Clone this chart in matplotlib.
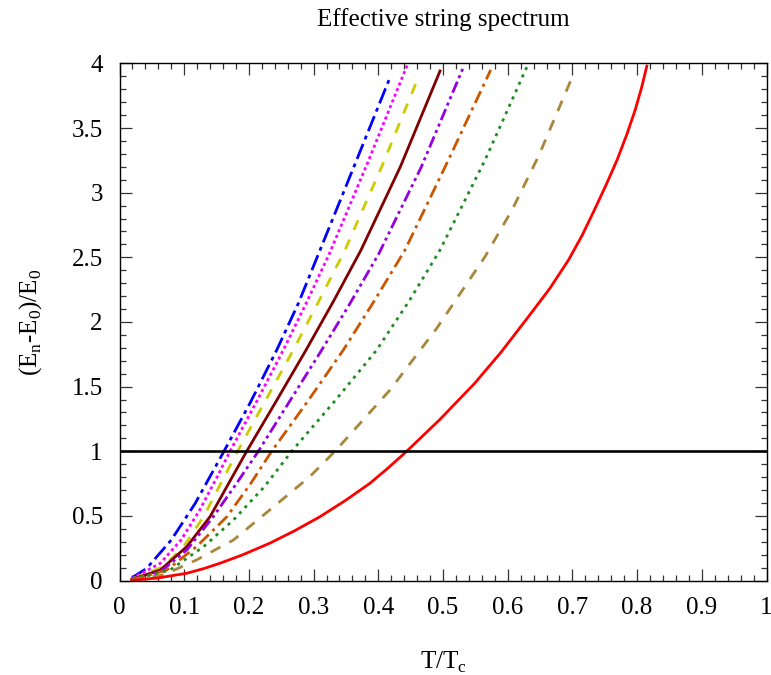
import matplotlib
matplotlib.use("Agg")
import matplotlib.pyplot as plt
from matplotlib.ticker import MultipleLocator, FixedLocator

plt.rcParams["font.family"] = ["Liberation Serif", "DejaVu Serif"]
plt.rcParams["mathtext.fontset"] = "custom"
plt.rcParams["mathtext.rm"] = "Liberation Serif"

# values (T/Tc, (En-E0)/E0)
blue_x = [0.019, 0.042, 0.080, 0.117, 0.1615, 0.2025, 0.243, 0.2765, 0.310, 0.363, 0.4165]
blue_y = [0.02, 0.094, 0.313, 0.597, 1.0, 1.38, 1.783, 2.145, 2.557, 3.21, 3.872]

magenta_x = [0.019, 0.063, 0.095, 0.124, 0.151, 0.1708, 0.212, 0.2532, 0.289, 0.3246, 0.385, 0.4448]
magenta_y = [0.015, 0.133, 0.313, 0.545, 0.803, 1.0, 1.385, 1.783, 2.15, 2.531, 3.25, 3.988]

yellow_x = [0.019, 0.068, 0.099, 0.130, 0.156, 0.1825, 0.2686, 0.309, 0.3485, 0.406, 0.4619]
yellow_y = [0.012, 0.107, 0.262, 0.494, 0.745, 1.0, 1.783, 2.17, 2.557, 3.21, 3.893]

darkred_x = [0.019, 0.063, 0.104, 0.140, 0.168, 0.1966, 0.2425, 0.2883, 0.331, 0.3733, 0.434, 0.4954]
darkred_y = [0.01, 0.081, 0.262, 0.494, 0.745, 1.0, 1.39, 1.783, 2.163, 2.557, 3.20, 3.942]

purple_x = [0.019, 0.063, 0.104, 0.145, 0.181, 0.2146, 0.3125, 0.357, 0.4011, 0.4665, 0.5314]
purple_y = [0.008, 0.067, 0.236, 0.494, 0.752, 1.0, 1.783, 2.15, 2.531, 3.20, 3.97]

orange_x = [0.019, 0.073, 0.119, 0.166, 0.203, 0.2352, 0.290, 0.3459, 0.394, 0.4413, 0.508, 0.5737]
orange_y = [0.006, 0.081, 0.262, 0.494, 0.752, 1.0, 1.38, 1.783, 2.165, 2.557, 3.25, 3.95]

green_x = [0.019, 0.078, 0.130, 0.176, 0.224, 0.2661, 0.333, 0.3975, 0.448, 0.4954, 0.565, 0.6309]
green_y = [0.005, 0.081, 0.262, 0.468, 0.726, 1.0, 1.39, 1.783, 2.165, 2.557, 3.253, 3.988]

tan_x = [0.019, 0.068, 0.119, 0.176, 0.232, 0.294, 0.3331, 0.4181, 0.4903, 0.5649, 0.607, 0.6473, 0.700]
tan_y = [0.004, 0.043, 0.159, 0.313, 0.545, 0.803, 1.0, 1.474, 1.951, 2.505, 2.87, 3.279, 3.898]

red_x = [0.019, 0.06, 0.104, 0.13, 0.155, 0.19, 0.232, 0.27, 0.310, 0.35, 0.387, 0.415, 0.4439, 0.495,
         0.549, 0.59, 0.632, 0.665, 0.694, 0.715, 0.734, 0.752, 0.769, 0.784, 0.797, 0.807, 0.815]
red_y = [0.002, 0.02, 0.056, 0.092, 0.133, 0.198, 0.288, 0.383, 0.494, 0.622, 0.752, 0.87, 1.0, 1.245,
         1.526, 1.768, 2.041, 2.259, 2.48, 2.67, 2.867, 3.06, 3.253, 3.45, 3.64, 3.815, 3.98]

threshold = 1.0

x_ticks = [0, 0.1, 0.2, 0.3, 0.4, 0.5, 0.6, 0.7, 0.8, 0.9, 1]
x_labels = ["0", "0.1", "0.2", "0.3", "0.4", "0.5", "0.6", "0.7", "0.8", "0.9", "1"]
y_ticks = [0, 0.5, 1, 1.5, 2, 2.5, 3, 3.5, 4]
y_labels = ["0", "0.5", "1", "1.5", "2", "2.5", "3", "3.5", "4"]

fig = plt.figure(figsize=(7.71, 6.75), dpi=100)
ax = fig.add_axes([0.155, 0.14, 0.8392, 0.766])

lw = 2.0
ax.plot(blue_x, blue_y, color="#0000FF", lw=lw, dashes=[5.8, 1.8, 1.4, 1.8])
ax.plot(magenta_x, magenta_y, color="#FF00FF", lw=lw, dashes=[1.1, 1.1])
ax.plot(yellow_x, yellow_y, color="#CCCC00", lw=lw, dashes=[3.8, 3.8])
ax.plot(darkred_x, darkred_y, color="#800000", lw=lw)
ax.plot(purple_x, purple_y, color="#9400E0", lw=lw, dashes=[4.3, 1.4, 1.1, 1.4, 1.1, 1.4])
ax.plot(orange_x, orange_y, color="#CC5500", lw=lw, dashes=[4.7, 1.8, 1.1, 1.8])
ax.plot(green_x, green_y, color="#228B22", lw=lw, dashes=[1.1, 1.8])
ax.plot(tan_x, tan_y, color="#A8873A", lw=lw, dashes=[4.0, 3.6])
ax.plot(red_x, red_y, color="#FF0000", lw=lw)
ax.axhline(threshold, color="black", lw=1.9)

ax.set_xlim(0, 1)
ax.set_ylim(0, 4)
ax.xaxis.set_major_locator(FixedLocator(x_ticks))
ax.set_xticklabels(x_labels)
ax.xaxis.set_minor_locator(MultipleLocator(0.02))
ax.yaxis.set_major_locator(FixedLocator(y_ticks))
ax.set_yticklabels(y_labels)
ax.yaxis.set_minor_locator(MultipleLocator(0.1))

ax.tick_params(which="both", direction="in", top=True, right=True, color="#333333", width=0.9)
ax.tick_params(which="major", length=8.4, labelsize=18, pad=12)
ax.tick_params(which="minor", length=4.3)
for s in ax.spines.values():
    s.set_linewidth(1.0)

ax.set_title("Effective string spectrum", fontsize=18, pad=27)
ax.set_xlabel(r"T/T$_\mathregular{c}$", fontsize=18, labelpad=22)
ax.set_ylabel(r"(E$_\mathregular{n}$-E$_\mathregular{0}$)/E$_\mathregular{0}$", fontsize=18, labelpad=20)

fig.savefig("out.png", dpi=100)
